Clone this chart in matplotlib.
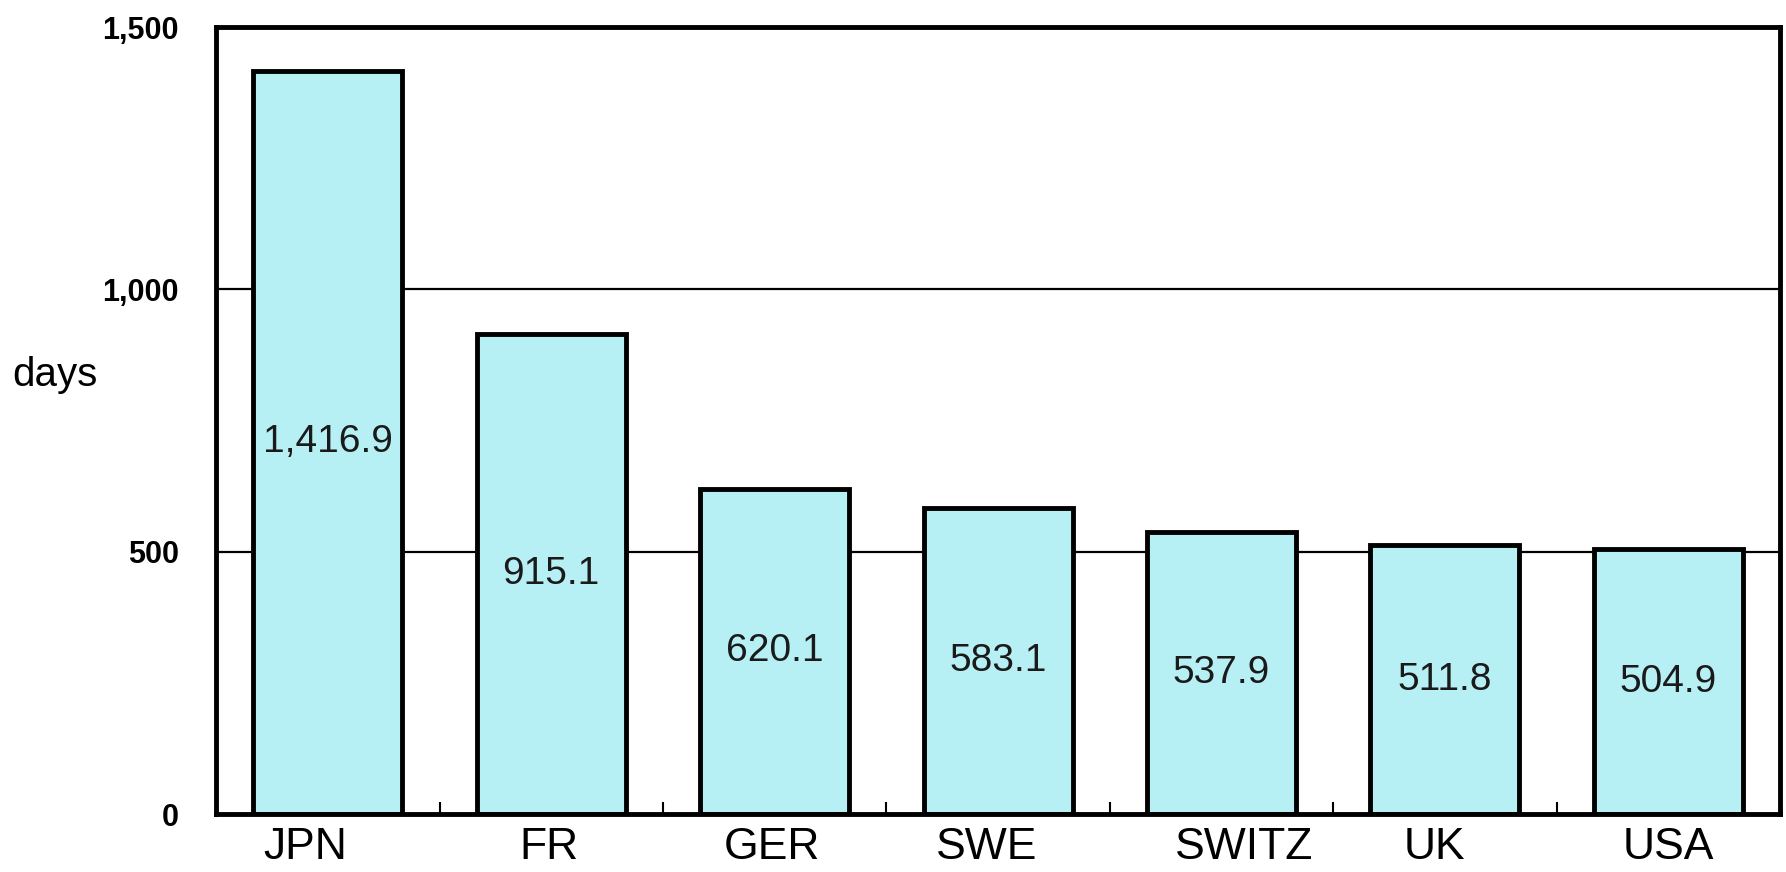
import numpy as np
import matplotlib
matplotlib.use("Agg")
import matplotlib.pyplot as plt

plt.rcParams['font.family'] = ['Liberation Sans', 'DejaVu Sans']

# data
countries = ["JPN", "FR", "GER", "SWE", "SWITZ", "UK", "USA"]
days = [1416.9, 915.1, 620.1, 583.1, 537.9, 511.8, 504.9]
value_labels = ["1,416.9", "915.1", "620.1", "583.1", "537.9", "511.8", "504.9"]
y_ticks = [0, 500, 1000, 1500]
y_tick_labels = ["0", "500", "1,000", "1,500"]

# small shifts of the category labels, as in the original scan
label_shift = [-0.1, -0.01, -0.01, -0.05, 0.1, -0.045, 0.0]

fig = plt.figure(figsize=(17.86, 8.72), dpi=100)
ax = fig.add_axes([0.121, 0.0665, 0.8756, 0.9025])

x = np.arange(len(countries))
ax.bar(x, days, width=0.667, color="#b6f0f4", edgecolor="black",
       linewidth=3.5, zorder=3)

for xi, v, lab in zip(x, days, value_labels):
    ax.text(xi, v / 2, lab, ha="center", va="center", fontsize=28,
            color="#1a1a1a", zorder=4)

# horizontal lines at 500 and 1000
for yv in y_ticks[1:-1]:
    ax.axhline(yv, color="black", linewidth=1.6, zorder=1)

ax.set_xlim(-0.5, len(countries) - 0.5)
ax.set_ylim(0, 1500)

ax.set_yticks(y_ticks)
ax.set_yticklabels(y_tick_labels, fontsize=22, fontweight="bold")
ax.tick_params(axis="y", length=0, pad=27)

ax.set_xticks(x + np.array(label_shift))
ax.set_xticklabels(countries, fontsize=32)
ax.tick_params(axis="x", which="major", length=0, pad=9)
ax.set_xticks(np.arange(0.5, len(countries) - 1), minor=True)
ax.tick_params(axis="x", which="minor", direction="in", length=9, width=1.5)

for s in ax.spines.values():
    s.set_linewidth(3.5)
    s.set_color("black")
    s.set_zorder(5)

fig.text(12 / 1786, 1 - 375 / 872, "days", ha="left", va="center", fontsize=29)

fig.savefig("out.png", dpi=100)
